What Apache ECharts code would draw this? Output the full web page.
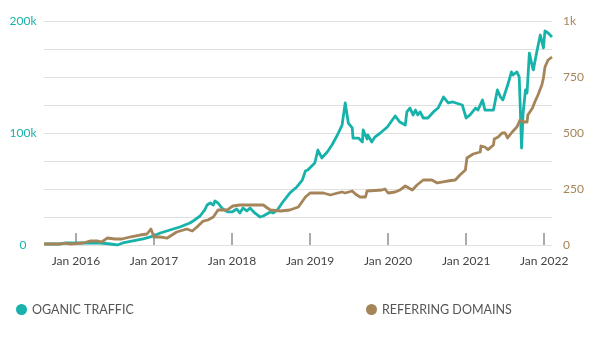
<!DOCTYPE html>
<html>
<head>
<meta charset="utf-8">
<script src="https://cdn.jsdelivr.net/npm/echarts@6/dist/echarts.min.js"></script>
<style>
html,body{margin:0;padding:0;background:#fff;}
#chart{width:601px;height:343px;}
</style>
</head>
<body>
<div id="chart"></div>
<script>
// Dates are decimal years
var trafficDates = [2015.59,2015.79,2015.88,2016.01,2016.14,2016.31,2016.44,2016.53,2016.60,2016.73,2016.86,2016.99,2017.08,2017.33,2017.46,2017.50,2017.59,2017.65,2017.68,2017.72,2017.76,2017.78,2017.82,2017.87,2017.94,2018.00,2018.06,2018.10,2018.14,2018.19,2018.23,2018.29,2018.36,2018.40,2018.49,2018.53,2018.58,2018.65,2018.74,2018.83,2018.90,2018.94,2018.97,2019.06,2019.10,2019.15,2019.22,2019.28,2019.35,2019.41,2019.45,2019.49,2019.54,2019.55,2019.62,2019.67,2019.68,2019.73,2019.74,2019.79,2019.83,2019.90,2019.99,2020.09,2020.15,2020.22,2020.24,2020.28,2020.32,2020.35,2020.38,2020.41,2020.45,2020.51,2020.58,2020.64,2020.71,2020.77,2020.83,2020.95,2021.00,2021.05,2021.12,2021.15,2021.21,2021.24,2021.35,2021.40,2021.44,2021.47,2021.54,2021.58,2021.60,2021.65,2021.68,2021.69,2021.71,2021.73,2021.76,2021.78,2021.81,2021.85,2021.86,2021.91,2021.95,2021.99,2022.01,2022.05,2022.10];
var trafficK = [0.9,0.9,1.8,1.8,1.8,1.8,0.9,0,1.8,3.6,5.4,8.0,10.7,16.1,19.6,21.4,25.9,31.3,35.7,37.5,35.7,39.3,37.5,33.0,29.5,29.5,32.1,28.6,33.0,30.4,33.0,28.6,25.0,25.9,29.5,28.6,31.3,38.4,46.4,51.8,58.0,66.0,67.0,73.2,84.8,77.7,83.0,89.3,98.2,107.1,126.8,108.9,104.5,95.5,95.5,92.0,102.7,94.6,98.2,92.0,96.4,100.0,105.4,115.2,109.8,107.1,118.8,122.3,116.1,120.5,116.1,118.8,113.4,113.4,118.8,122.3,132.1,126.8,127.7,125.0,113.4,116.1,122.3,120.5,129.5,120.5,120.5,138.4,132.1,129.5,144.6,154.5,151.8,154.5,150.0,129.5,86.6,117.9,138.4,135.7,171.4,158.9,156.3,174.1,187.5,175.9,191.1,189.3,185.7];

var domainDates = [2015.59,2015.79,2015.86,2015.92,2016.09,2016.18,2016.27,2016.33,2016.40,2016.50,2016.59,2016.69,2016.82,2016.91,2016.96,2017.00,2017.08,2017.17,2017.23,2017.29,2017.42,2017.49,2017.55,2017.63,2017.69,2017.76,2017.82,2017.94,2018.01,2018.10,2018.40,2018.49,2018.62,2018.74,2018.85,2018.94,2019.00,2019.06,2019.17,2019.26,2019.35,2019.41,2019.45,2019.54,2019.58,2019.64,2019.71,2019.73,2019.92,2019.96,2020.00,2020.09,2020.15,2020.22,2020.31,2020.37,2020.45,2020.56,2020.63,2020.76,2020.86,2020.92,2020.99,2021.01,2021.09,2021.18,2021.19,2021.24,2021.28,2021.35,2021.36,2021.41,2021.46,2021.50,2021.53,2021.59,2021.65,2021.69,2021.73,2021.78,2021.79,2021.85,2021.88,2021.92,2021.97,2021.99,2022.01,2022.05,2022.10];
var domainValues = [4.5,4.5,8.9,4.5,8.9,17.9,17.9,13.4,31.2,26.8,26.8,35.7,44.6,49.1,71.4,35.7,35.7,31.2,44.6,58.0,71.4,62.5,80.4,107.1,111.6,125.0,156.3,156.3,174.1,178.6,178.6,156.3,151.8,156.3,169.6,214.3,232.1,232.1,232.1,223.2,232.1,236.6,232.1,241.1,227.7,214.3,214.3,241.1,245.5,250.0,232.1,236.6,245.5,263.4,245.5,267.9,290.2,290.2,276.8,285.7,290.2,312.5,334.8,388.4,406.3,415.2,441.9,437.5,426.0,446.4,473.2,482.1,500.0,500.0,477.7,504.5,526.8,558.0,549.1,549.1,580.4,611.6,638.4,669.6,714.3,745.5,794.6,825.9,839.3];

var yearTicks = [2016,2017,2018,2019,2020,2021,2022];
var leftLabels = {0:'0',100000:'100k',200000:'200k'};
var rightLabels = {0:'0',250:'250',500:'500',750:'750',1000:'1k'};
var seriesNames = ['OGANIC TRAFFIC','REFERRING DOMAINS'];

var TEAL = '#17b3ab', BROWN = '#a5845a';

var trafficData = trafficDates.map(function(d,i){return [d, trafficK[i]*1000];});
var domainData = domainDates.map(function(d,i){return [d, domainValues[i]];});

var chart = echarts.init(document.getElementById('chart'), null, {renderer:'canvas'});
var font = 'Lato, "Noto Sans", sans-serif';
chart.setOption({
  animation:false,
  backgroundColor:'#fff',
  grid:{left:44,right:49,top:21,bottom:98,containLabel:false},
  legend:[
    {data:[seriesNames[0]],left:11,top:298,icon:'circle',itemWidth:11,itemHeight:11,itemGap:10,
     textStyle:{color:'#555',fontSize:12.5,fontFamily:font}},
    {data:[seriesNames[1]],left:361,top:298,icon:'circle',itemWidth:11,itemHeight:11,itemGap:10,
     textStyle:{color:'#555',fontSize:12.5,fontFamily:font}}
  ],
  xAxis:{
    type:'value',min:2015.59,max:2022.10,
    axisLine:{show:false},
    splitLine:{show:false},
    axisTick:{show:true,inside:true,length:12,customValues:yearTicks,lineStyle:{color:'#aaaaaa',width:2}},
    axisLabel:{customValues:yearTicks,formatter:function(v){return 'Jan '+Math.round(v);},color:'#444',fontSize:12,fontFamily:font,margin:10}
  },
  yAxis:[
    {type:'value',min:0,max:200000,interval:25000,position:'left',
     axisLine:{show:false},axisTick:{show:false},
     splitLine:{show:true,lineStyle:{color:'#e0e0e0',width:1}},
     axisLabel:{color:TEAL,fontSize:12,fontFamily:font,align:'center',margin:21,
       formatter:function(v){return leftLabels[v]!==undefined?leftLabels[v]:'';}}},
    {type:'value',min:0,max:1000,interval:125,position:'right',
     axisLine:{show:false},axisTick:{show:false},splitLine:{show:false},
     axisLabel:{color:BROWN,fontSize:12,fontFamily:font,align:'left',margin:11,
       formatter:function(v){return rightLabels[v]!==undefined?rightLabels[v]:'';}}}
  ],
  series:[
    {name:seriesNames[0],type:'line',yAxisIndex:0,data:trafficData,showSymbol:false,symbol:'circle',
     itemStyle:{color:TEAL},lineStyle:{color:TEAL,width:2.8,join:'round'}},
    {name:seriesNames[1],type:'line',yAxisIndex:1,data:domainData,showSymbol:false,symbol:'circle',
     itemStyle:{color:BROWN},lineStyle:{color:BROWN,width:2.8,join:'round'}}
  ]
});
</script>
</body>
</html>
